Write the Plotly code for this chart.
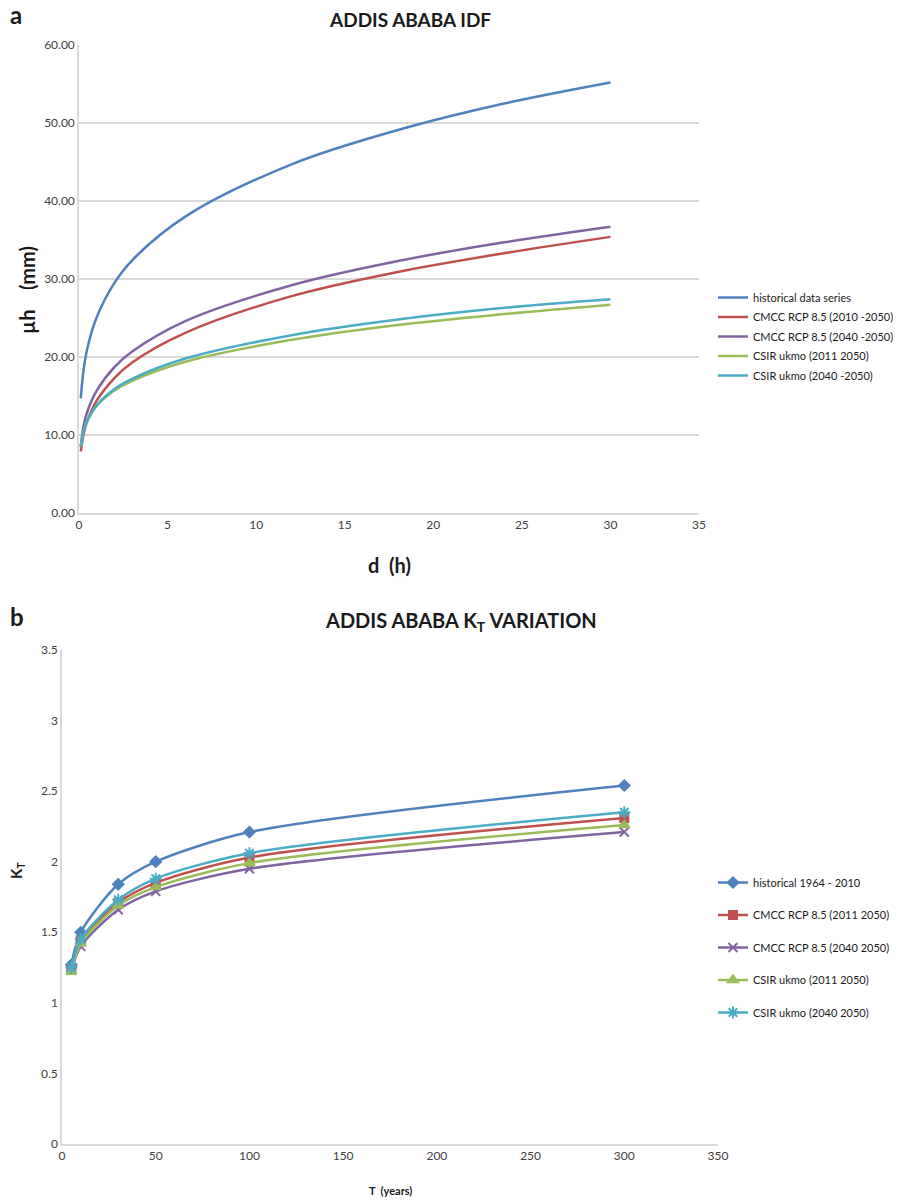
import plotly.graph_objects as go

# ---------------- Panel a: IDF curves ----------------
d_hours = [0.1, 0.25, 0.5, 1, 2, 3, 6, 12, 18, 24, 30]
idf_names = ["historical data series", "CMCC RCP 8.5 (2010 -2050)", "CMCC RCP 8.5 (2040 -2050)",
             "CSIR ukmo (2011 2050)", "CSIR ukmo (2040 -2050)"]
h_hist = [14.7, 18.2, 21.4, 25.1, 29.5, 32.4, 38.0, 44.7, 49.1, 52.5, 55.2]
h_cmcc_2010 = [7.9, 10.0, 12.0, 14.4, 17.3, 19.3, 23.1, 27.8, 30.9, 33.3, 35.4]
h_cmcc_2040 = [8.4, 11.1, 13.2, 15.7, 18.7, 20.7, 24.6, 29.2, 32.3, 34.7, 36.7]
h_csir_2011 = [8.5, 10.5, 12.0, 13.75, 15.7, 16.95, 19.4, 22.2, 24.1, 25.5, 26.7]
h_csir_2040 = [8.6, 10.4, 12.0, 13.8, 15.9, 17.2, 19.8, 22.8, 24.8, 26.3, 27.4]

# ---------------- Panel b: KT variation ----------------
T_years = [5, 10, 30, 50, 100, 300]
kt_names = ["historical 1964 - 2010", "CMCC RCP 8.5 (2011 2050)", "CMCC RCP 8.5 (2040 2050)",
            "CSIR ukmo (2011 2050)", "CSIR ukmo (2040 2050)"]
kt_hist = [1.27, 1.50, 1.84, 2.00, 2.21, 2.54]
kt_cmcc_2011 = [1.24, 1.44, 1.71, 1.85, 2.03, 2.31]
kt_cmcc_2040 = [1.23, 1.40, 1.66, 1.79, 1.95, 2.21]
kt_csir_2011 = [1.22, 1.42, 1.69, 1.82, 1.99, 2.26]
kt_csir_2040 = [1.25, 1.45, 1.73, 1.88, 2.06, 2.35]

colors = ["#4F81BD", "#C0504D", "#8064A2", "#9BBB59", "#4BACC6"]
FONT = "Lato, 'Open Sans', sans-serif"
TXT = "#404040"
DARK = "#1a1a1a"

fig = go.Figure()

idf_series = [h_hist, h_cmcc_2010, h_cmcc_2040, h_csir_2011, h_csir_2040]
for i, (name, ys) in enumerate(zip(idf_names, idf_series)):
    fig.add_trace(go.Scatter(
        x=d_hours, y=ys, name=name, mode="lines",
        line=dict(color=colors[i], width=2.5, shape="spline", smoothing=1.0),
        xaxis="x", yaxis="y", legend="legend", legendgroup="a%d" % i,
    ))

kt_series = [kt_hist, kt_cmcc_2011, kt_cmcc_2040, kt_csir_2011, kt_csir_2040]
symbols = ["diamond", "square", "x-thin-open", "triangle-up", "asterisk-open"]
msizes = [8, 8, 9, 9, 10]
for i, (name, ys) in enumerate(zip(kt_names, kt_series)):
    fig.add_trace(go.Scatter(
        x=T_years, y=ys, name=name, mode="lines+markers",
        line=dict(color=colors[i], width=2.5, shape="spline", smoothing=0.8),
        marker=dict(symbol=symbols[i], size=msizes[i], color=colors[i],
                    line=dict(color=colors[i], width=2)),
        xaxis="x2", yaxis="y2", legend="legend2", legendgroup="b%d" % i,
    ))

W, H = 898, 1200
def px(x):
    return x / W
def py(y):
    return 1 - y / H

fig.update_layout(
    width=W, height=H,
    margin=dict(l=0, r=0, t=0, b=0, autoexpand=False),
    paper_bgcolor="white", plot_bgcolor="white",
    font=dict(family=FONT, color=TXT, size=11),
    xaxis=dict(domain=[px(79), px(699)], range=[0, 35], dtick=5, anchor="y", automargin=False,
               showgrid=False, zeroline=False, showline=True, linecolor="#d9d9d9", linewidth=1.5,
               ticks="", tickfont=dict(size=12, color=TXT)),
    yaxis=dict(domain=[py(513), py(45)], range=[0, 60], dtick=10, tickformat=".2f", anchor="x",
               automargin=False,
               showgrid=True, gridcolor="#d9d9d9", gridwidth=1.5, zeroline=False,
               showline=True, linecolor="#d9d9d9", linewidth=1.5,
               ticks="", tickfont=dict(size=12, color=TXT)),
    xaxis2=dict(domain=[px(62), px(718)], range=[0, 350], dtick=50, anchor="y2", automargin=False,
                showgrid=False, zeroline=False, showline=True, linecolor="#d9d9d9", linewidth=1.5,
                ticks="", tickfont=dict(size=12, color=TXT)),
    yaxis2=dict(domain=[py(1144), py(650)], range=[0, 3.5], dtick=0.5, anchor="x2",
                automargin=False, showgrid=False, zeroline=False,
                showline=True, linecolor="#d9d9d9", linewidth=1.5, ticks="",
                tickfont=dict(size=12, color=TXT)),
    legend=dict(x=px(713), y=py(283), xanchor="left", yanchor="top",
                font=dict(size=11, color=DARK), tracegroupgap=0.5,
                bgcolor="rgba(0,0,0,0)", itemwidth=30),
    legend2=dict(x=px(713), y=py(868), xanchor="left", yanchor="top",
                 font=dict(size=11, color=DARK), tracegroupgap=13.5,
                 bgcolor="rgba(0,0,0,0)", itemwidth=30),
    showlegend=True,
    annotations=[
        dict(text="<b>a</b>", x=px(8), y=py(15), xref="paper", yref="paper",
             xanchor="left", yanchor="middle", showarrow=False,
             font=dict(size=24, color=DARK, family=FONT)),
        dict(text="<b>ADDIS ABABA IDF</b>", x=px(410), y=py(19), xref="paper", yref="paper",
             xanchor="center", yanchor="middle", showarrow=False,
             font=dict(size=19, color=DARK, family=FONT)),
        dict(text="<b>b</b>", x=px(8), y=py(616), xref="paper", yref="paper",
             xanchor="left", yanchor="middle", showarrow=False,
             font=dict(size=24, color=DARK, family=FONT)),
        dict(text="<b>ADDIS ABABA K<sub>T</sub> VARIATION</b>", x=px(461), y=py(621), xref="paper", yref="paper",
             xanchor="center", yanchor="middle", showarrow=False,
             font=dict(size=20, color=DARK, family=FONT)),
        # axis titles
        dict(text="<b>d&nbsp;&nbsp;(h)</b>", x=px(389), y=py(565), xref="paper", yref="paper",
             xanchor="center", yanchor="middle", showarrow=False,
             font=dict(size=20, color=DARK, family=FONT)),
        dict(text="<b>µh&nbsp;&nbsp;&nbsp;&nbsp;(mm)</b>", x=px(27), y=py(290), xref="paper", yref="paper",
             xanchor="center", yanchor="middle", showarrow=False, textangle=-90,
             font=dict(size=20, color=DARK, family=FONT)),
        dict(text="<b>T&nbsp;&nbsp;(years)</b>", x=px(390), y=py(1190), xref="paper", yref="paper",
             xanchor="center", yanchor="middle", showarrow=False,
             font=dict(size=11, color=DARK, family=FONT)),
        dict(text="<b>K<sub>T</sub></b>", x=px(17), y=py(871), xref="paper", yref="paper",
             xanchor="center", yanchor="middle", showarrow=False, textangle=-90,
             font=dict(size=15, color=DARK, family=FONT)),
    ],
)

fig.write_html(
    "out.html",
    config={"displayModeBar": False},
    post_script="document.body.style.margin='0';document.body.style.overflow='hidden';",
)
